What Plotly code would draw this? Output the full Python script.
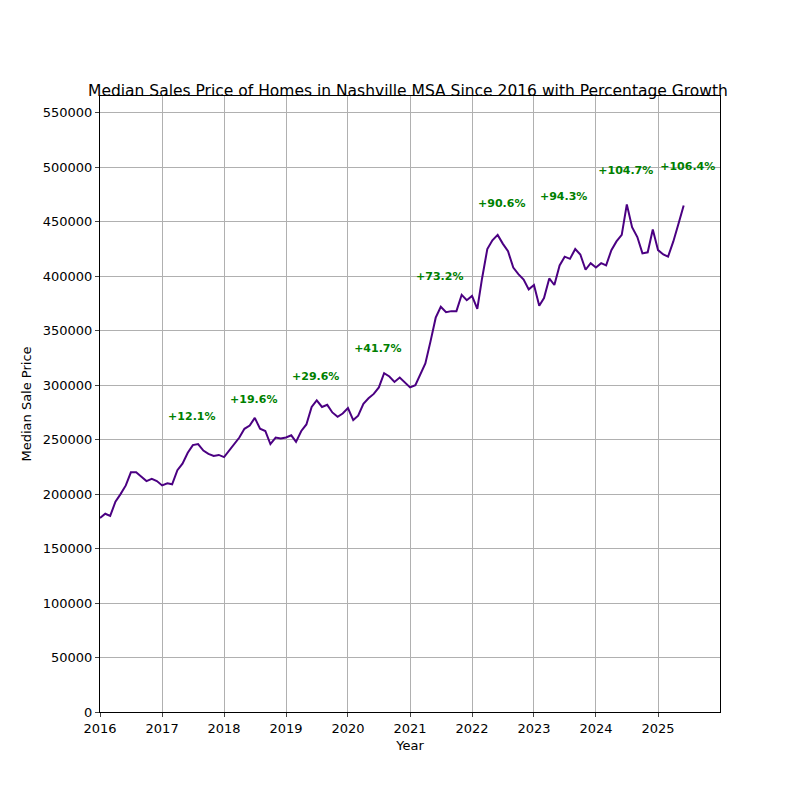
import pandas as pd
import plotly.graph_objects as go

# Monthly median sale price, Nashville MSA
dates = pd.date_range("2016-01-01", "2025-06-01", freq="MS")
prices = [
    178000, 182000, 180000, 193000, 200000, 208000, 220000, 220000, 216000, 212000, 214000, 212000,
    208000, 210000, 209000, 222000, 228000, 238000, 245000, 246000, 240000, 237000, 235000, 236000,
    234000, 240000, 246000, 252000, 260000, 263000, 270000, 260000, 258000, 246000, 252000, 251000,
    252000, 254000, 248000, 258000, 264000, 280000, 286000, 280000, 282000, 275000, 271000, 274000,
    279000, 268000, 272000, 283000, 288000, 292000, 298000, 311000, 308000, 303000, 307000, 303000,
    298000, 300000, 310000, 320000, 340000, 362000, 372000, 367000, 368000, 368000, 383000, 378000,
    382000, 370000, 398000, 425000, 433000, 438000, 430000, 423000, 408000, 402000, 397000, 388000,
    392000, 373000, 380000, 398000, 392000, 410000, 418000, 416000, 425000, 420000, 406000, 412000,
    408000, 412000, 410000, 424000, 432000, 438000, 466000, 445000, 436000, 421000, 422000, 443000,
    424000, 420000, 418000, 432000, 448000, 465000,
]

# Growth labels relative to 2016
label_years = [2017, 2018, 2019, 2020, 2021, 2022, 2023, 2024, 2025]
label_texts = ["+12.1%", "+19.6%", "+29.6%", "+41.7%", "+73.2%", "+90.6%", "+94.3%", "+104.7%", "+106.4%"]
label_y = [271000, 286000, 307000, 333000, 399000, 466000, 473000, 496000, 500000]

fig = go.Figure()
fig.add_trace(
    go.Scatter(
        x=dates,
        y=prices,
        mode="lines",
        line=dict(color="#4B0082", width=2),
        showlegend=False,
    )
)

label_x = [pd.Timestamp(f"{y}-06-25") for y in label_years]
fig.add_trace(
    go.Scatter(
        x=label_x,
        y=label_y,
        mode="text",
        text=[f"<b>{t}</b>" for t in label_texts],
        textfont=dict(color="green", size=11),
        showlegend=False,
    )
)

fig.update_layout(
    title=dict(
        text="Median Sales Price of Homes in Nashville MSA Since 2016 with Percentage Growth",
        x=0.5, xanchor="center", y=0.89, yanchor="bottom",
        font=dict(size=15.5, color="black"),
    ),
    width=800,
    height=800,
    margin=dict(l=92, r=88, t=88, b=96),
    plot_bgcolor="white",
    paper_bgcolor="white",
    font=dict(family="DejaVu Sans", size=13, color="black"),
)

fig.update_xaxes(
    range=[pd.Timestamp("2016-01-01"), pd.Timestamp("2026-01-01")],
    tickvals=[pd.Timestamp(f"{y}-01-01") for y in range(2016, 2026)],
    tickformat="%Y",
    title=dict(text="Year", font=dict(size=13), standoff=6),
    showgrid=True, gridcolor="#b0b0b0", gridwidth=1,
    showline=True, linecolor="black", mirror=True,
    ticks="outside", ticklen=4, zeroline=False,
)
fig.update_yaxes(
    range=[0, 565500],
    tickvals=list(range(0, 550001, 50000)),
    tickformat="d",
    title=dict(text="Median Sale Price", font=dict(size=13), standoff=8),
    showgrid=True, gridcolor="#b0b0b0", gridwidth=1,
    showline=True, linecolor="black", mirror=True,
    ticks="outside", ticklen=4, zeroline=False,
)

fig.write_html("out.html")
